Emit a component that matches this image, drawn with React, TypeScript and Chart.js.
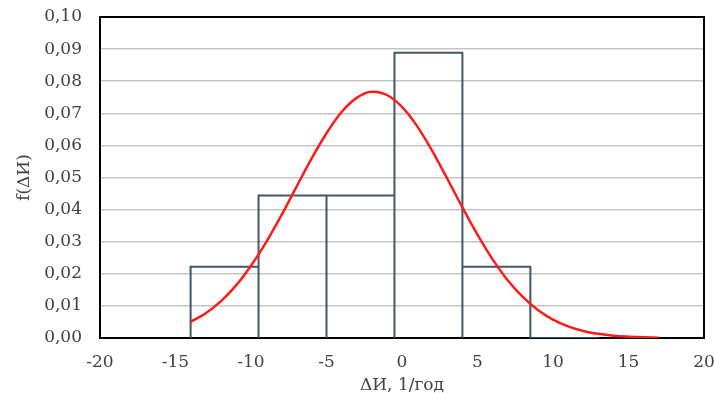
import React, { useEffect, useRef } from "react";
import { Chart, registerables } from "chart.js";

Chart.register(...registerables);

// Histogram bins (edges) and densities
const binEdges = [-14, -9.5, -5, -0.5, 4, 8.5, 13];
const binHeights = [0.0222, 0.0444, 0.0444, 0.0889, 0.0222, 0];

// Fitted density curve
const curveX = [-14, -13, -12, -11, -10, -9, -8, -7, -6, -5, -4, -3, -2, -1, 0, 1, 2, 3, 4, 5, 6, 7, 8, 9, 10, 11, 12, 13, 14, 15, 16, 17];
const curveY = [0.005, 0.0077, 0.0114, 0.0163, 0.0225, 0.0298, 0.0381, 0.047, 0.0558, 0.0638, 0.0704, 0.0748, 0.0767, 0.0757, 0.072, 0.066, 0.0583, 0.0496, 0.0407, 0.0322, 0.0245, 0.018, 0.0128, 0.0087, 0.0057, 0.0036, 0.0022, 0.0013, 0.0007, 0.0004, 0.0002, 0.0001];

const xTicks = { min: -20, max: 20, step: 5 };
const yTicks = { min: 0, max: 0.1, step: 0.01 };

const xTitle = "ΔИ, 1/год";
const yTitle = "f(ΔИ)";

const FONT = "'DejaVu Serif', serif";

export default function App() {
  const ref = useRef<HTMLCanvasElement | null>(null);

  useEffect(() => {
    if (!ref.current) return;
    const histPts: { x: number; y: number }[] = [];
    for (let i = 0; i < binHeights.length; i++) {
      histPts.push({ x: binEdges[i], y: 0 });
      histPts.push({ x: binEdges[i], y: binHeights[i] });
      histPts.push({ x: binEdges[i + 1], y: binHeights[i] });
      histPts.push({ x: binEdges[i + 1], y: 0 });
    }
    const curvePts = curveX.map((x, i) => ({ x, y: curveY[i] }));

    const framePlugin = {
      id: "frame",
      beforeDatasetsDraw(chart: any) {
        const { ctx, chartArea } = chart;
        ctx.save();
        ctx.strokeStyle = "#000";
        ctx.lineWidth = 2;
        ctx.strokeRect(chartArea.left, chartArea.top, chartArea.right - chartArea.left, chartArea.bottom - chartArea.top);
        ctx.restore();
      },
    };

    const chart = new Chart(ref.current, {
      type: "scatter",
      data: {
        datasets: [
          {
            data: curvePts,
            showLine: true,
            borderColor: "#FF1A1A",
            borderWidth: 2.5,
            pointRadius: 0,
            tension: 0.4,
            cubicInterpolationMode: "monotone",
            order: 0,
          },
          {
            data: histPts,
            showLine: true,
            borderColor: "#44546A",
            borderWidth: 2,
            pointRadius: 0,
            tension: 0,
            order: 1,
          },
        ],
      },
      options: {
        animation: false,
        responsive: false,
        maintainAspectRatio: false,
        layout: { padding: { top: 17, right: 10, left: 0, bottom: 0 } },
        plugins: { legend: { display: false }, tooltip: { enabled: false } },
        scales: {
          x: {
            type: "linear",
            min: xTicks.min,
            max: xTicks.max,
            afterFit: (s: any) => {
              s.height = 60;
              s.paddingLeft = 0;
              s.paddingRight = 0;
            },
            ticks: {
              stepSize: xTicks.step,
              padding: 14,
              color: "#404040",
              font: { family: FONT, size: 17 },
              callback: (v: any) => String(v),
            },
            grid: { display: false, drawTicks: false },
            border: { display: true, color: "#000", width: 2 },
            title: {
              display: true,
              text: xTitle,
              color: "#404040",
              font: { family: FONT, size: 17 },
              padding: { top: 0, bottom: 2 },
            },
          },
          y: {
            type: "linear",
            min: yTicks.min,
            max: yTicks.max,
            afterFit: (s: any) => {
              s.width = 100;
              s.paddingTop = 0;
              s.paddingBottom = 0;
            },
            ticks: {
              stepSize: yTicks.step,
              padding: 18,
              color: "#404040",
              font: { family: FONT, size: 17 },
              callback: (v: any) => Number(v).toFixed(2).replace(".", ","),
            },
            grid: { color: "#C4C4C4", lineWidth: 1.5, drawTicks: false },
            border: { display: true, color: "#000", width: 2 },
            title: {
              display: true,
              text: yTitle,
              color: "#404040",
              font: { family: FONT, size: 17 },
              padding: { top: 14, bottom: 0 },
            },
          },
        },
      } as any,
      plugins: [framePlugin],
    });
    return () => chart.destroy();
  }, []);

  return (
    <div style={{ position: "fixed", left: 0, top: 0, width: 714, height: 398, background: "#fff" }}>
      <canvas ref={ref} width={714} height={398} style={{ width: 714, height: 398 }} />
    </div>
  );
}
